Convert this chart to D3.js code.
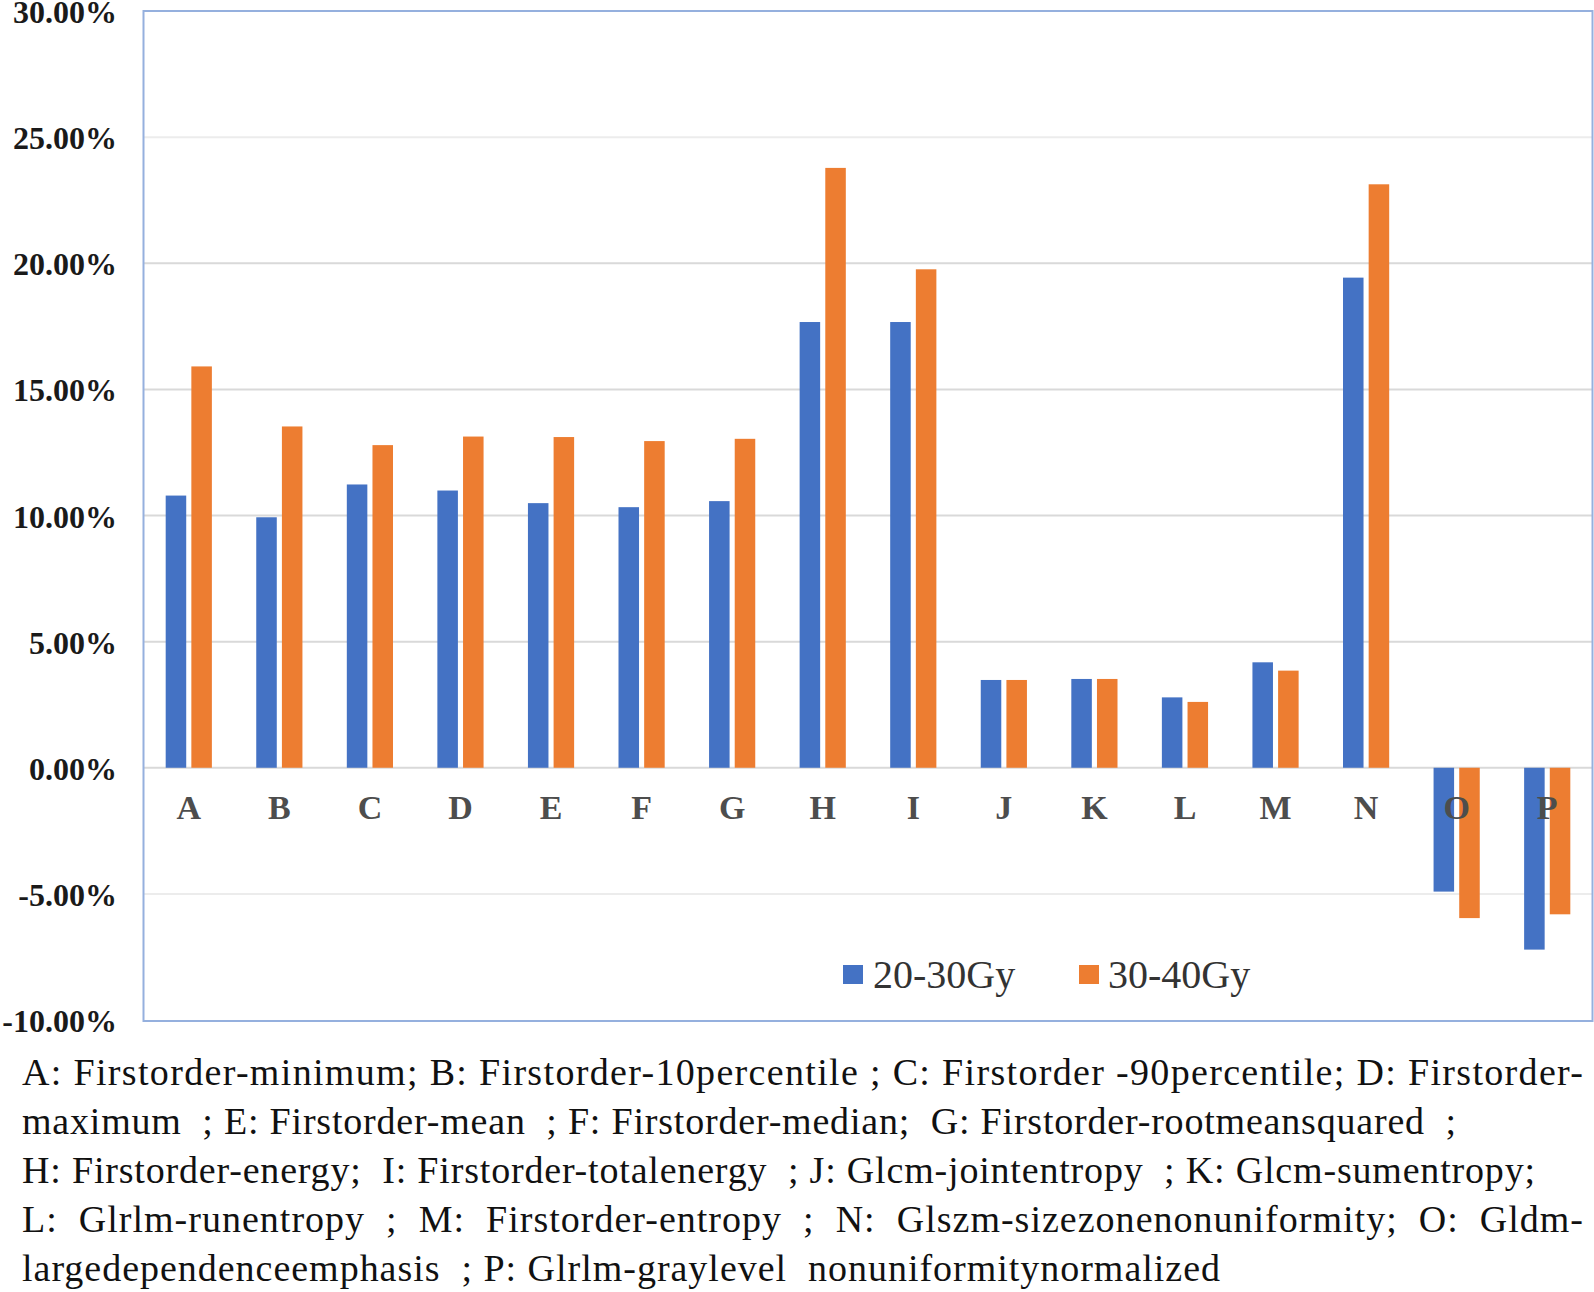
<!DOCTYPE html>
<html>
<head>
<meta charset="utf-8">
<script src="https://cdn.jsdelivr.net/npm/d3@7"></script>
<style>
  html, body { margin: 0; padding: 0; background: #fff; }
  svg { display: block; }
</style>
</head>
<body>
<svg id="chart" width="1594" height="1292"></svg>
<script>
// ---- data ----
const categories = ["A","B","C","D","E","F","G","H","I","J","K","L","M","N","O","P"];
const seriesNames = ["20-30Gy", "30-40Gy"];
const values2030 = [10.79, 9.93, 11.23, 10.99, 10.49, 10.33, 10.57, 17.67, 17.67, 3.48, 3.52, 2.79, 4.18, 19.43, -4.91, -7.21];
const values3040 = [15.91, 13.53, 12.79, 13.13, 13.11, 12.95, 13.04, 23.78, 19.76, 3.48, 3.52, 2.61, 3.85, 23.13, -5.96, -5.81];
const tickValues = [30, 25, 20, 15, 10, 5, 0, -5, -10];
const captionLines = [
  "A: Firstorder-minimum; B: Firstorder-10percentile ; C: Firstorder -90percentile; D: Firstorder-",
  "maximum  ; E: Firstorder-mean  ; F: Firstorder-median;  G: Firstorder-rootmeansquared  ;",
  "H: Firstorder-energy;  I: Firstorder-totalenergy  ; J: Glcm-jointentropy  ; K: Glcm-sumentropy;",
  "L:  Glrlm-runentropy  ;  M:  Firstorder-entropy  ;  N:  Glszm-sizezonenonuniformity;  O:  Gldm-",
  "largedependenceemphasis  ; P: Glrlm-graylevel  nonuniformitynormalized"
];
const captionWidths = [1561, 1434, 1513, 1561, 1198];

// ---- layout ----
const colors = ["#4472C4", "#ED7D31"];
const plot = { left: 143.5, right: 1592.5, top: 11, bottom: 1020 };
const svg = d3.select("#chart");

const y = d3.scaleLinear().domain([-10, 30]).range([plot.bottom, plot.top]);
const x0 = d3.scaleBand().domain(categories).range([plot.left, plot.right])
  .paddingInner(0.49).paddingOuter(0.245);
const x1 = d3.scaleBand().domain(seriesNames).range([0, x0.bandwidth()]).paddingInner(0.2);

// gridlines
svg.append("g").selectAll("line").data(tickValues.filter(v => v !== 30 && v !== -10)).join("line")
  .attr("x1", plot.left).attr("x2", plot.right)
  .attr("y1", d => y(d)).attr("y2", d => y(d))
  .attr("stroke", d => (d === 25 || d === -5) ? "#ececec" : "#d9d9d9")
  .attr("stroke-width", 2);

// y axis labels
const yAxis = d3.axisLeft(y).tickValues(tickValues).tickSize(0).tickPadding(0)
  .tickFormat(d => d3.format(".2f")(d).replace("−", "-") + "%");
const yg = svg.append("g").attr("transform", `translate(117,0)`).call(yAxis);
yg.select(".domain").remove();
yg.selectAll("text")
  .attr("font-family", "'Liberation Serif', 'Times New Roman', serif")
  .attr("font-weight", "bold").attr("font-size", 32).attr("fill", "#1a1a1a")
  .attr("dy", "0.36em");

// bars
const seriesData = [values2030, values3040];
const groups = svg.append("g").selectAll("g").data(seriesData).join("g")
  .attr("fill", (d, i) => colors[i]);
groups.selectAll("rect").data((vals, si) => vals.map((v, ci) => ({ v, c: categories[ci], s: seriesNames[si] })))
  .join("rect")
  .attr("x", d => x0(d.c) + x1(d.s))
  .attr("width", x1.bandwidth())
  .attr("y", d => y(Math.max(0, d.v)))
  .attr("height", d => Math.abs(y(d.v) - y(0)));

// category labels
const xAxis = d3.axisBottom(x0).tickSize(0).tickPadding(0);
const xg = svg.append("g").attr("transform", `translate(0,${y(0)})`).call(xAxis);
xg.select(".domain").remove();
xg.selectAll("text")
  .attr("y", 39).attr("dy", "0.36em")
  .attr("font-family", "'Liberation Serif', 'Times New Roman', serif")
  .attr("font-weight", "bold").attr("font-size", 34).attr("fill", "#4d4d4d");

// frame
svg.append("rect")
  .attr("x", plot.left).attr("y", plot.top)
  .attr("width", plot.right - plot.left).attr("height", plot.bottom + 1 - plot.top)
  .attr("fill", "none").attr("stroke", "#95b0de").attr("stroke-width", 2);

// legend
const legendItems = [{ x: 843, tx: 873 }, { x: 1079, tx: 1108 }];
const lg = svg.append("g").selectAll("g").data(seriesNames).join("g");
lg.append("rect")
  .attr("x", (d, i) => legendItems[i].x).attr("y", 965)
  .attr("width", 20).attr("height", 19)
  .attr("fill", (d, i) => colors[i]);
lg.append("text")
  .attr("x", (d, i) => legendItems[i].tx).attr("y", 988)
  .attr("font-family", "'Liberation Serif', 'Times New Roman', serif")
  .attr("font-size", 40).attr("fill", "#333")
  .text(d => d);

// caption
svg.append("g").selectAll("text").data(captionLines).join("text")
  .attr("x", 22).attr("y", (d, i) => 1085 + i * 49)
  .attr("font-family", "'Liberation Serif', 'Times New Roman', serif")
  .attr("font-size", 38).attr("fill", "#111")
  .attr("textLength", (d, i) => captionWidths[i])
  .attr("lengthAdjust", "spacing")
  .style("white-space", "pre")
  .text(d => d);
</script>
</body>
</html>
